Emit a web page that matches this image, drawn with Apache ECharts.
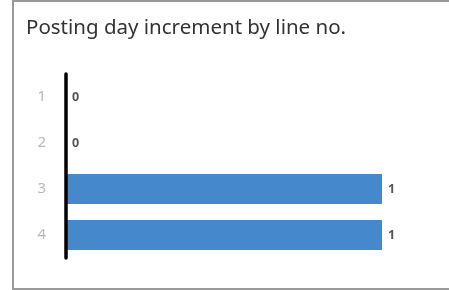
<!DOCTYPE html>
<html>
<head>
<meta charset="utf-8">
<script src="https://cdn.jsdelivr.net/npm/echarts@6/dist/echarts.min.js"></script>
<style>
  html, body { margin: 0; padding: 0; background: #fff; }
  #frame {
    position: absolute; left: 12px; top: 0; width: 437px; height: 290px;
    border-left: 2px solid #9a9a9a; border-top: 2px solid #9a9a9a; border-bottom: 2px solid #9a9a9a;
    box-sizing: border-box;
  }
  #chart { position: absolute; left: 0; top: 0; width: 449px; height: 290px; }
</style>
</head>
<body>
<div id="frame"></div>
<div id="chart"></div>
<script>
const lineNos = ['1', '2', '3', '4']
const increments = [0, 0, 1, 1]

const chart = echarts.init(document.getElementById('chart'))
chart.setOption({
  animation: false,
  title: {
    text: 'Posting day increment by line no.',
    left: 21,
    top: 13,
    textStyle: { fontFamily: 'Noto Sans', fontSize: 20.5, fontWeight: 'normal', color: '#333' },
  },
  grid: { left: 66, right: 67, top: 74, bottom: 32 },
  xAxis: {
    type: 'value',
    min: 0,
    max: 1,
    show: false,
  },
  yAxis: {
    type: 'category',
    data: lineNos,
    inverse: true,
    z: 5,
    axisLine: { lineStyle: { color: '#000', width: 3.5 } },
    axisTick: { show: false },
    axisLabel: { color: '#b8b8b8', fontSize: 15, margin: 20, fontFamily: 'Noto Sans' },
  },
  series: [
    {
      type: 'bar',
      data: increments,
      barWidth: 30,
      itemStyle: { color: '#4688cc' },
      label: {
        show: true,
        position: 'right',
        distance: 6,
        color: '#555',
        fontSize: 12.5,
        fontWeight: 'bold',
        fontFamily: 'Noto Sans',
      },
    },
  ],
})
</script>
</body>
</html>
